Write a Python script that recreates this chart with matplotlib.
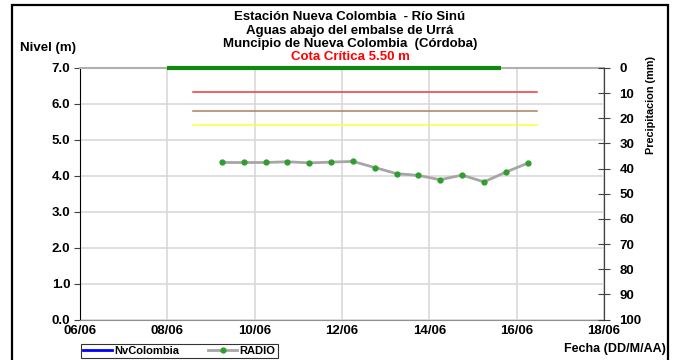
import matplotlib; matplotlib.use("Agg")
import matplotlib.pyplot as plt
import matplotlib.dates as mdates
import pandas as pd
from matplotlib.lines import Line2D
from matplotlib.patches import Rectangle

plt.rcParams['font.family'] = ['Liberation Sans', 'DejaVu Sans']
plt.rcParams['font.weight'] = 'bold'

# datos RADIO (cada 12 h)
radio_t = ["2011-06-09 06:00", "2011-06-09 18:00", "2011-06-10 06:00", "2011-06-10 18:00",
           "2011-06-11 06:00", "2011-06-11 18:00", "2011-06-12 06:00", "2011-06-12 18:00",
           "2011-06-13 06:00", "2011-06-13 18:00", "2011-06-14 06:00", "2011-06-14 18:00",
           "2011-06-15 06:00", "2011-06-15 18:00", "2011-06-16 06:00"]
radio_nivel = [4.37, 4.37, 4.37, 4.39, 4.36, 4.38, 4.40, 4.23, 4.06, 4.01,
               3.89, 4.02, 3.83, 4.10, 4.35]

# umbrales
umbral_t = ["2011-06-08 14:00", "2011-06-16 11:00"]
umbral_val = [6.33, 5.80, 5.40]
umbral_col = ["#e8393a", "#a98060", "#ffff33"]

# barra verde superior
barra_t = ["2011-06-08 00:00", "2011-06-15 15:30"]
barra_val = 7.0

x_lim = ["2011-06-06", "2011-06-18"]
titulo = ["Estación Nueva Colombia  - Río Sinú",
          "Aguas abajo del embalse de Urrá",
          "Muncipio de Nueva Colombia  (Córdoba)"]

W, H = 674, 360
fig = plt.figure(figsize=(W/100, H/100), dpi=100)
ax = fig.add_axes([80/W, 1-319.5/H, 524/W, 251.5/H])

t = pd.to_datetime(radio_t)
ut = pd.to_datetime(umbral_t)
bt = pd.to_datetime(barra_t)

for v, c in zip(umbral_val, umbral_col):
    ax.plot(ut, [v, v], color=c, lw=1.1, zorder=3)
ax.plot(bt, [barra_val, barra_val], color="#118811", lw=3, zorder=5, clip_on=False,
        solid_capstyle='butt')
ax.plot(t, radio_nivel, color="#a6a6a6", lw=2, zorder=4)
ax.plot(t, radio_nivel, 'o', color="#2e9e2e", ms=3.5, zorder=5)

ax.set_xlim(pd.to_datetime(x_lim))
ax.set_ylim(0, 7)
ax.set_yticks([0, 1, 2, 3, 4, 5, 6, 7])
ax.yaxis.set_major_formatter(plt.FormatStrFormatter('%.1f'))
ax.xaxis.set_major_locator(mdates.DayLocator(interval=2))
ax.xaxis.set_major_formatter(mdates.DateFormatter('%d/%m'))
ax.grid(True, color="#d9d9d9", lw=1.2)
ax.tick_params(axis='y', length=4, width=0.8, pad=3, labelsize=9.5, color='#404040')
ax.tick_params(axis='x', length=0, pad=4, labelsize=9.5)
ax.spines['left'].set_color('black')
ax.spines['bottom'].set_color('#909090')
ax.spines['top'].set_color('#b0b0b0')
ax.spines['top'].set_linewidth(1.5)
ax.spines['right'].set_color('#404040')

ax2 = ax.twinx()
ax2.set_ylim(100, 0)
ax2.set_yticks(range(0, 101, 10))
ax2.tick_params(axis='y', direction='inout', length=8, width=0.8, pad=7,
                labelsize=9.5, color='#404040')
for s in ['left', 'top', 'bottom']:
    ax2.spines[s].set_visible(False)
ax2.spines['right'].set_color('#404040')

cx = 350/W
for i, line in enumerate(titulo):
    fig.text(cx, 1-(17.5+13.3*i)/H, line, ha='center', va='center', fontsize=9.5, weight='bold')
fig.text(cx, 1-57.5/H, "Cota Crítica 5.50 m", ha='center', va='center', fontsize=9.5,
         weight='bold', color='#ff0000')
fig.text(20/W, 1-48/H, "Nivel (m)", ha='left', va='center', fontsize=9.5, weight='bold')
fig.text(651/W, 1-105/H, "Precipitacion (mm)", ha='center', va='center', rotation=90,
         fontsize=7.8, weight='bold')
fig.text(666/W, 1-349/H, "Fecha (DD/M/AA)", ha='right', va='center', fontsize=9, weight='bold')

handles = [Line2D([], [], color='#0000ff', lw=2),
           Line2D([], [], color='#a6a6a6', lw=2, marker='o', ms=3.5,
                  markerfacecolor='#2e9e2e', markeredgecolor='#2e9e2e')]
leg = fig.legend(handles, ["NvColombia", "RADIO"], loc='upper left',
                 bbox_to_anchor=(81/W, 1-344/H), ncol=2, fontsize=8, frameon=True,
                 fancybox=False, edgecolor='black', borderpad=0.2, handlelength=2.6,
                 handletextpad=0.2, columnspacing=2.6, borderaxespad=0)
leg.get_frame().set_linewidth(0.8)

fig.patches.append(Rectangle((12/W, -0.1), 656/W, 1.1-5/H, transform=fig.transFigure,
                             fill=False, edgecolor='black', lw=1.6))
fig.savefig("out.png", dpi=100)
